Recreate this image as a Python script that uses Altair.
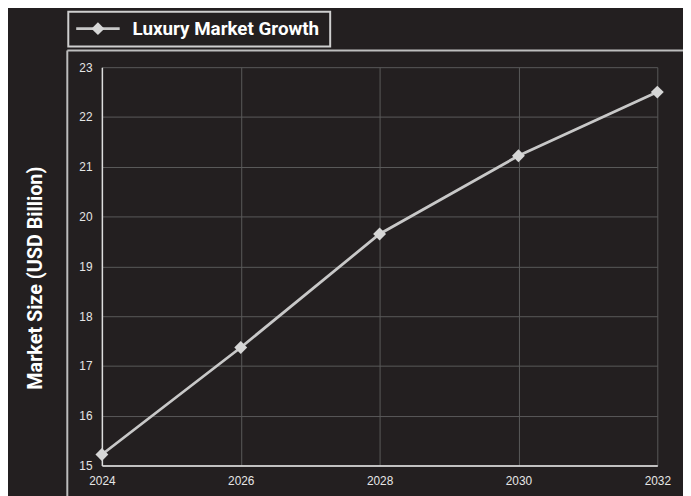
import altair as alt
import pandas as pd

years = [2024, 2026, 2028, 2030, 2032]
market_size = [15.22, 17.37, 19.65, 21.22, 22.5]
series_name = "Luxury Market Growth"
y_title = "Market Size (USD Billion)"

BG = "#231f20"
LINE = "#c8c8c8"
MARK = "#d6d6d6"
GRID = "#5a5a5a"
W, H = 562, 403

df = pd.DataFrame({"year": years, "size": market_size})
one = pd.DataFrame({"k": [0]})

x = alt.X("year:Q", scale=alt.Scale(domain=[2024, 2032], nice=False, zero=False),
          axis=alt.Axis(values=[2024, 2026, 2028, 2030, 2032], format="d", title=None,
                        labelFont="Liberation Sans", labelFontSize=12, labelColor="#e6e6e6",
                        labelPadding=10, ticks=False, tickSize=0,
                        domainColor="#eeeeee", domainWidth=1.5,
                        gridColor=GRID, gridWidth=1, labelFlush=False))
y = alt.Y("size:Q", scale=alt.Scale(domain=[15, 23], nice=False, zero=False),
          axis=alt.Axis(values=list(range(15, 24)), title=y_title,
                        titleFont="Roboto", titleFontSize=20, titleFontWeight="bold",
                        titleColor="#ffffff", titleX=-61, titleY=213, titleAngle=270,
                        titleBaseline="alphabetic", titleAlign="center",
                        labelFont="Liberation Sans", labelFontSize=12, labelColor="#e6e6e6",
                        labelPadding=10, ticks=False, tickSize=0,
                        domainColor="#dddddd", domainWidth=1.5,
                        gridColor=GRID, gridWidth=1))

line = alt.Chart(df).mark_line(color=LINE, strokeWidth=2.8).encode(x=x, y=y)
pts = alt.Chart(df).mark_point(shape="diamond", filled=True, color=MARK, size=170, opacity=1).encode(x="year:Q", y="size:Q")

# outer frame
frame_v = alt.Chart(one).mark_rule(color="#bdbdbd", strokeWidth=2).encode(
    x=alt.value(-35), y=alt.value(-17), y2=alt.value(H + 60))
frame_h = alt.Chart(one).mark_rule(color="#bdbdbd", strokeWidth=2).encode(
    x=alt.value(-35), x2=alt.value(W + 60), y=alt.value(-17))

# legend
leg_box = alt.Chart(one).mark_rect(fill=BG, stroke="#cfcfcf", strokeWidth=2).encode(
    x=alt.value(-34), x2=alt.value(231), y=alt.value(-56), y2=alt.value(-21))
leg_line = alt.Chart(one).mark_rule(color=LINE, strokeWidth=2.8).encode(
    x=alt.value(-26), x2=alt.value(18), y=alt.value(-39))
leg_pt = alt.Chart(one).mark_point(shape="diamond", filled=True, color=MARK, size=170, opacity=1).encode(
    x=alt.value(-4), y=alt.value(-39))
leg_txt = alt.Chart(one).mark_text(text=series_name, font="Roboto", fontSize=19,
                                   fontWeight="bold", color="#ffffff", align="left",
                                   baseline="alphabetic").encode(x=alt.value(31), y=alt.value(-33))

chart = alt.layer(line, pts, frame_v, frame_h, leg_box, leg_line, leg_pt, leg_txt).properties(
    width=W, height=H,
    autosize=alt.AutoSizeParams(type="none"),
    padding={"left": 95, "top": 57, "right": 26, "bottom": 28},
    background=BG,
).configure_view(stroke=None)

chart.save("out.html", embed_options={"renderer": "svg", "actions": False})
